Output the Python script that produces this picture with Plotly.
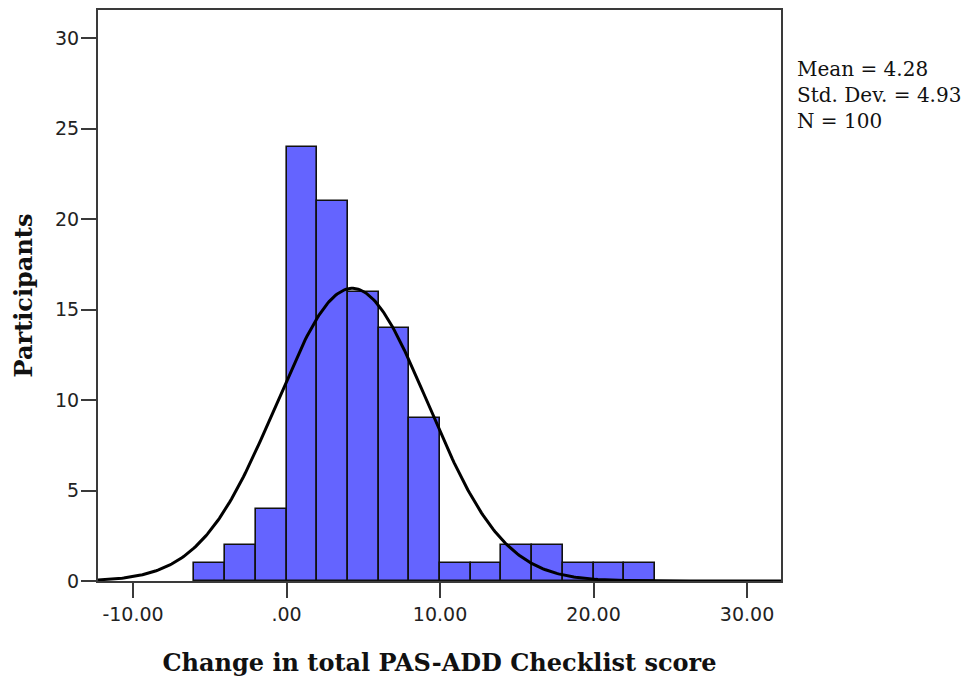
import numpy as np
import plotly.graph_objects as go

# Histogram of change scores (bin width 2)
bin_left_edges = [-6, -4, -2, 0, 2, 4, 6, 8, 10, 12, 14, 16, 18, 20, 22]
counts = [1, 2, 4, 24, 21, 16, 14, 9, 1, 1, 2, 2, 1, 1, 1]
bin_width = 2

# Summary statistics
mean_val = 4.28
sd_val = 4.93
n_val = 100

x_ticks = [-10, 0, 10, 20, 30]
x_tick_labels = ["-10.00", ".00", "10.00", "20.00", "30.00"]
y_ticks = [0, 5, 10, 15, 20, 25, 30]

x_range = [-12.28, 32.21]
y_range = [0, 31.57]

centers = [e + bin_width / 2 for e in bin_left_edges]

# Normal curve scaled to the histogram
xs = np.linspace(x_range[0], x_range[1], 400)
ys = n_val * bin_width * np.exp(-0.5 * ((xs - mean_val) / sd_val) ** 2) / (sd_val * np.sqrt(2 * np.pi))

fig = go.Figure()
fig.add_trace(go.Bar(
    x=centers, y=counts, width=bin_width,
    marker=dict(color="#6464FF", line=dict(color="#111111", width=1.6)),
    hoverinfo="x+y",
))
fig.add_trace(go.Scatter(
    x=xs, y=ys, mode="lines",
    line=dict(color="#000000", width=3),
    hoverinfo="skip",
))

axis_common = dict(
    showgrid=False, zeroline=False,
    showline=True, linecolor="#3a3a3a", linewidth=2, mirror=True,
    ticks="outside", ticklen=15, tickwidth=2, tickcolor="#3a3a3a",
    tickfont=dict(family="DejaVu Sans", size=19, color="#222222"),
)

title_font = dict(family="DejaVu Serif", size=24, color="#111111")

fig.update_layout(
    width=969, height=686,
    margin=dict(l=98, r=188, t=8, b=105),
    paper_bgcolor="white", plot_bgcolor="white",
    showlegend=False, bargap=0,
    xaxis=dict(
        range=x_range, tickvals=x_ticks, ticktext=x_tick_labels,
        ticklabelstandoff=0,
        title=dict(text="<b>Change in total PAS-ADD Checklist score</b>",
                   font=title_font, standoff=30),
        **axis_common,
    ),
    yaxis=dict(
        range=y_range, tickvals=y_ticks,
        ticklabelstandoff=-2,
        title=dict(text="<b>Participants</b>", font=title_font, standoff=16),
        **axis_common,
    ),
)

fig.add_annotation(
    xref="paper", yref="paper", x=1, y=0.922,
    xshift=14, xanchor="left", yanchor="top", align="left", showarrow=False,
    text="Mean = 4.28<br>Std. Dev. = 4.93<br>N = 100",
    font=dict(family="DejaVu Serif", size=20, color="#111111"),
)

fig.write_html("out.html")
